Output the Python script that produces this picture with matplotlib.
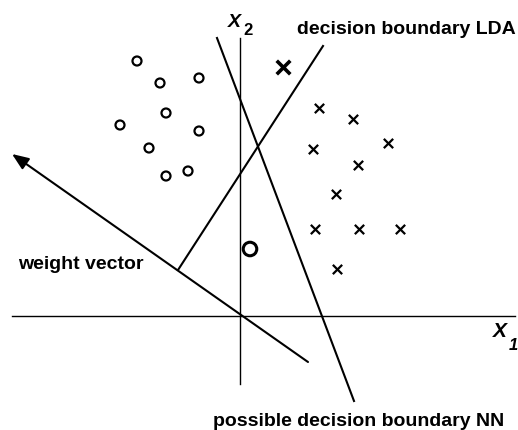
import numpy as np
import matplotlib.pyplot as plt

plt.rcParams['font.family'] = ['Liberation Sans', 'DejaVu Sans']

# class "o" samples (x1, x2)
circ_x = [-103, -80, -41, -74, -120, -41, -91, -74, -52]
circ_y = [255, 233, 238, 203, 191, 185, 168, 140, 145]
# class "x" samples
cross_x = [79, 113, 73, 148, 118, 96, 75, 119, 160, 97]
cross_y = [208, 197, 167, 173, 151, 122, 87, 87, 87, 47]
# the two test points
big_o = (10, 67)
big_x = (43, 249)

# lines (start, end)
nn_line = [(-23, 278), (114, -85)]
lda_line = [(83, 270), (-62, 46)]
weight_line = [(68, -46), (-228, 162)]
x1_axis = [(-228, 0), (275, 0)]
x2_axis = [(0, 278), (0, -68)]

fig = plt.figure(figsize=(5.18, 4.31), dpi=100)
ax = fig.add_axes([0, 0, 1, 1])
ax.set_xlim(-240, 278)
ax.set_ylim(-114, 317)
ax.axis('off')

lw = 1.5
for seg in [x1_axis, x2_axis]:
    (xa, ya), (xb, yb) = seg
    ax.plot([xa, xb], [ya, yb], color='black', lw=1.0)
for seg in [nn_line, lda_line]:
    (xa, ya), (xb, yb) = seg
    ax.plot([xa, xb], [ya, yb], color='black', lw=lw)

# weight vector with arrow head
(xa, ya), (xb, yb) = weight_line
ax.annotate('', xy=(xb, yb), xytext=(xa, ya),
            arrowprops=dict(arrowstyle='-|>,head_length=1.0,head_width=0.4',
                            color='black', lw=lw, shrinkA=0, shrinkB=0))

ax.scatter(circ_x, circ_y, s=42, facecolors='none', edgecolors='black', linewidths=1.6)
ax.scatter(cross_x, cross_y, s=45, marker='x', color='black', linewidths=1.6)
ax.scatter([big_o[0]], [big_o[1]], s=95, marker='o', facecolors='none',
           edgecolors='black', linewidths=2.2)
ax.scatter([big_x[0]], [big_x[1]], s=95, marker='x', color='black', linewidths=2.6)

# axis labels
ax.text(-12, 290, 'X', fontsize=14, style='italic', weight='bold', ha='left', va='baseline')
ax.text(3, 282, '2', fontsize=12, weight='bold', ha='left', va='baseline')
ax.text(253, -20, 'X', fontsize=15, style='italic', weight='bold', ha='left', va='baseline')
ax.text(269, -33, '1', fontsize=12, style='italic', weight='bold', ha='left', va='baseline')

fs = 14
ax.text(57, 283, 'decision boundary LDA', fontsize=fs, weight='bold', ha='left', va='baseline')
ax.text(-222, 48, 'weight vector', fontsize=fs, weight='bold', ha='left', va='baseline')
ax.text(-27, -109, 'possible decision boundary NN', fontsize=fs, weight='bold',
        ha='left', va='baseline')

fig.savefig('out.png', dpi=100)
